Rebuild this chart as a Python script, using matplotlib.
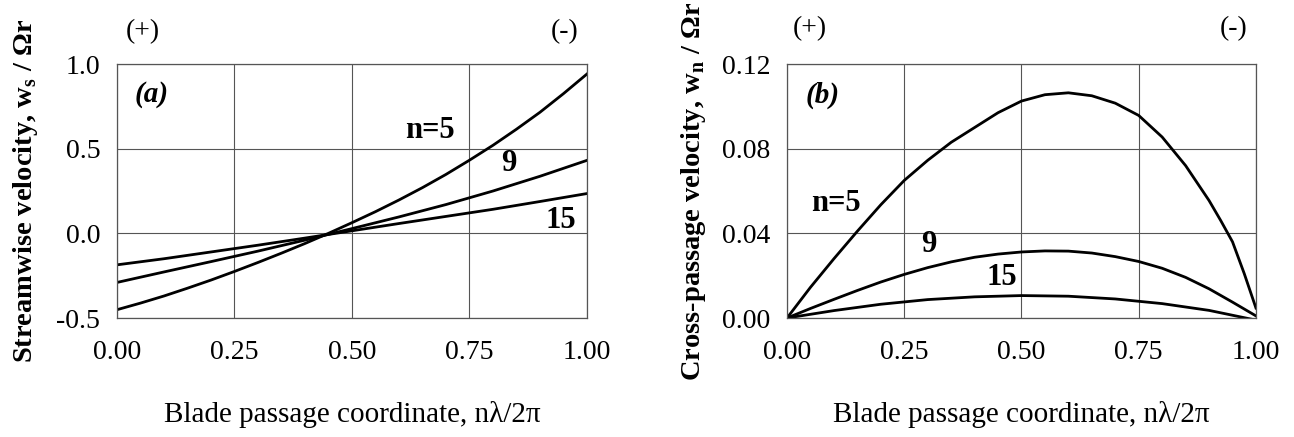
import matplotlib
matplotlib.use("Agg")
import matplotlib.pyplot as plt
import numpy as np

plt.rcParams['font.family'] = ['Liberation Serif', 'DejaVu Serif']
plt.rcParams['mathtext.fontset'] = 'custom'
plt.rcParams['mathtext.rm'] = 'Liberation Serif:bold'

# (a) streamwise velocity
xa5 = [0.0, 0.05, 0.1, 0.15, 0.2, 0.25, 0.3, 0.35, 0.4, 0.45, 0.5,
       0.55, 0.6, 0.65, 0.7, 0.75, 0.8, 0.85, 0.9, 0.95, 1.0]
ws_n5 = [-0.451, -0.412, -0.37, -0.324, -0.276, -0.225, -0.172, -0.117, -0.06, 0.0, 0.063,
         0.128, 0.197, 0.27, 0.348, 0.432, 0.52, 0.615, 0.715, 0.825, 0.941]
xa = [0.0, 0.1, 0.2, 0.3, 0.4, 0.5, 0.6, 0.7, 0.8, 0.9, 1.0]
ws_n9 = [-0.29, -0.228, -0.167, -0.105, -0.04, 0.028, 0.097, 0.17, 0.25, 0.337, 0.431]
ws_n15 = [-0.186, -0.15, -0.11, -0.07, -0.028, 0.015, 0.058, 0.10, 0.142, 0.188, 0.235]

# (b) cross-passage velocity
xb5 = [0.0, 0.05, 0.1, 0.15, 0.2, 0.25, 0.3, 0.35, 0.4, 0.45, 0.5,
       0.55, 0.6, 0.65, 0.7, 0.75, 0.8, 0.85, 0.9, 0.925, 0.95, 0.975, 1.0]
wn_n5 = [0.0, 0.0145, 0.028, 0.041, 0.0535, 0.065, 0.0745, 0.083, 0.090, 0.097, 0.1025,
         0.1055, 0.1064, 0.105, 0.1015, 0.0957, 0.0855, 0.072, 0.0555, 0.046, 0.036,
         0.021, 0.0047]
xb = [0.0, 0.05, 0.1, 0.15, 0.2, 0.25, 0.3, 0.35, 0.4, 0.45, 0.5, 0.55, 0.6,
      0.65, 0.7, 0.75, 0.8, 0.85, 0.9, 0.95, 1.0]
wn_n9 = [0.0, 0.0045, 0.0088, 0.013, 0.017, 0.0206, 0.0238, 0.0265, 0.0287, 0.0302,
         0.0312, 0.0317, 0.0316, 0.0307, 0.029, 0.0267, 0.0235, 0.0192, 0.0138, 0.0075,
         0.001]
xb15 = [0.0, 0.1, 0.2, 0.3, 0.4, 0.5, 0.6, 0.7, 0.8, 0.9, 1.0]
wn_n15 = [0.0, 0.0035, 0.0065, 0.0087, 0.010, 0.0106, 0.0103, 0.009, 0.0068, 0.0036, -0.001]

xticks = [0.0, 0.25, 0.5, 0.75, 1.0]
xlabels = ['0.00', '0.25', '0.50', '0.75', '1.00']

fig = plt.figure(figsize=(12.94, 4.37), dpi=100)
ax1 = fig.add_axes([0.0904, 0.2723, 0.3632, 0.5812])
ax2 = fig.add_axes([0.6082, 0.2723, 0.3624, 0.5812])

fs = 20
for ax in (ax1, ax2):
    ax.set_xlim(0, 1)
    ax.set_xticks(xticks)
    ax.set_xticklabels(xlabels)
    ax.grid(True, color='#555555', lw=0.8)
    ax.set_axisbelow(True)
    for s in ax.spines.values():
        s.set_color('#555555')
        s.set_linewidth(0.9)
    ax.tick_params(length=0, labelsize=fs)
    ax.tick_params(axis='x', pad=16)
    ax.tick_params(axis='y', pad=12)
    ax.set_xlabel('Blade passage coordinate, n\u03bb/2\u03c0', fontsize=21, labelpad=26)

ax1.plot(xa5, ws_n5, color='black', lw=2)
ax1.plot(xa, ws_n9, color='black', lw=2)
ax1.plot(xa, ws_n15, color='black', lw=2)
ax1.set_ylim(-0.5, 1.0)
ax1.set_yticks([-0.5, 0.0, 0.5, 1.0])
ax1.set_yticklabels(['-0.5', '0.0', '0.5', '1.0'])
ax1.set_ylabel('Streamwise velocity, w$_{\\mathrm{s}}$ / \u03a9r', fontsize=20.5,
               fontweight='bold', labelpad=12)
ax1.text(0.666, 0.608, 'n=5', fontsize=22, fontweight='bold', ha='center', va='center')
ax1.text(0.834, 0.41, '9', fontsize=22, fontweight='bold', ha='center', va='center')
ax1.text(0.944, 0.078, '15', fontsize=22, fontweight='bold', ha='center', va='center')
ax1.text(0.073, 0.82, '(a)', fontsize=21, fontweight='bold', fontstyle='italic',
         ha='center', va='center')
ax1.text(0.055, 1.19, '(+)', fontsize=20, ha='center', va='center')
ax1.text(0.953, 1.19, '(-)', fontsize=20, ha='center', va='center')

ax2.plot(xb5, wn_n5, color='black', lw=2)
ax2.plot(xb, wn_n9, color='black', lw=2)
ax2.plot(xb15, wn_n15, color='black', lw=2)
ax2.set_ylim(0, 0.12)
ax2.set_yticks([0.0, 0.04, 0.08, 0.12])
ax2.set_yticklabels(['0.00', '0.04', '0.08', '0.12'])
ax2.set_ylabel('Cross-passage velocity, w$_{\\mathrm{n}}$ / \u03a9r', fontsize=20.5,
               fontweight='bold', labelpad=10)
ax2.text(0.105, 0.0541, 'n=5', fontsize=22, fontweight='bold', ha='center', va='center')
ax2.text(0.303, 0.0345, '9', fontsize=22, fontweight='bold', ha='center', va='center')
ax2.text(0.457, 0.0193, '15', fontsize=22, fontweight='bold', ha='center', va='center')
ax2.text(0.075, 0.105, '(b)', fontsize=21, fontweight='bold', fontstyle='italic',
         ha='center', va='center')
ax2.text(0.048, 0.1365, '(+)', fontsize=20, ha='center', va='center')
ax2.text(0.953, 0.1365, '(-)', fontsize=20, ha='center', va='center')

fig.savefig('out.png', dpi=100)
